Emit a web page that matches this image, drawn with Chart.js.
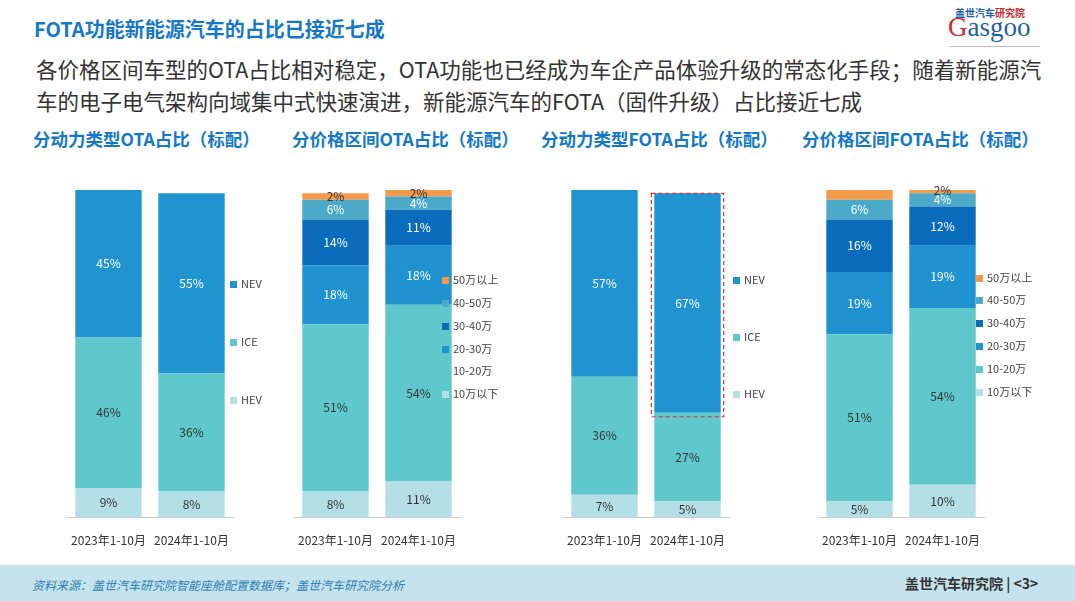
<!DOCTYPE html>
<html><head><meta charset="utf-8">
<script src="https://cdn.jsdelivr.net/npm/chart.js@4"></script>
<style>
body{margin:0;width:1075px;height:601px;position:relative;background:#fff;font-family:"Noto Sans CJK SC","Noto Sans",sans-serif;overflow:hidden}
.a{position:absolute;white-space:nowrap}
canvas{position:absolute}
.lg{position:absolute;font-size:11px;color:#444;white-space:nowrap}
.lg i{display:inline-block;width:7px;height:7px;margin-right:4px;vertical-align:0px}
.t{font-size:17.5px;font-weight:bold;color:#1478c8;top:126px}
</style></head><body>
<div class="a" style="left:34px;top:14px;font-size:20px;font-weight:bold;color:#1478c8">FOTA功能新能源汽车的占比已接近七成</div>
<div class="a" style="left:36px;top:53px;font-size:21.5px;color:#333;line-height:32px">各价格区间车型的OTA占比相对稳定，OTA功能也已经成为车企产品体验升级的常态化手段；随着新能源汽<br>车的电子电气架构向域集中式快速演进，新能源汽车的FOTA（固件升级）占比接近七成</div>
<div class="a" style="left:955px;top:5px;font-size:10px;font-weight:bold;color:#1f5fa8">盖世汽车<span style="color:#d0282e">研究院</span></div>
<div class="a" style="left:948px;top:12px;font-size:27px;color:#1f5fa8;font-family:'Liberation Serif'"><span style="color:#d0282e">G</span>asgoo</div>
<div class="a" style="left:950px;top:46px;width:90px;border-top:1px solid #bbb"></div>
<div class="a t" style="left:33px">分动力类型OTA占比（标配）</div>
<div class="a t" style="left:292px">分价格区间OTA占比（标配）</div>
<div class="a t" style="left:541px">分动力类型FOTA占比（标配）</div>
<div class="a t" style="left:802px">分价格区间FOTA占比（标配）</div>
<div class="a" style="left:0;top:565px;width:1075px;height:36px;background:#c5e3ec"></div>
<div class="a" style="left:32px;top:576px;font-size:12px;color:#2a7fb8;font-style:italic">资料来源：盖世汽车研究院智能座舱配置数据库；盖世汽车研究院分析</div>
<div class="a" style="left:905px;top:573px;font-size:14px;font-weight:bold;color:#333">盖世汽车研究院 | &lt;3&gt;</div>

<canvas id="c1"></canvas><canvas id="c2"></canvas><canvas id="c3"></canvas><canvas id="c4"></canvas>
<div id="legs"></div>
<script>
const years=["2023年1-10月","2024年1-10月"];
const powerNames=["HEV","ICE","NEV"];
const priceNames=["10万以下","10-20万","20-30万","30-40万","40-50万","50万以上"];
const otaPower=[[9,8],[46,36],[45,55]];
const otaPrice=[[8,11],[51,54],[18,18],[14,11],[6,4],[2,2]];
const fotaPower=[[7,5],[36,27],[57,67]];
const fotaPrice=[[5,10],[51,54],[19,19],[16,12],[6,4],[3,2]];
const powerColors=["#b4dfe7","#5fc8cc","#1f94d1"];
const priceColors=["#b4dfe7","#5fc8cc","#1f92cf","#0b6cbc","#4aaac8","#f39a4b"];
const powerText=["#333","#333","#fff"];
const priceText=["#333","#333","#fff","#fff","#fff","#333"];

const labelPlugin={id:'lbl',afterDatasetsDraw(ch,a,opt){
  const ctx=ch.ctx;ctx.save();ctx.font='12px "Noto Sans CJK SC"';ctx.textAlign='center';ctx.textBaseline='middle';
  ch.data.datasets.forEach((ds,i)=>{ch.getDatasetMeta(i).data.forEach((el,j)=>{
    const v=ds.data[j]; if(ds.hideLabel&&ds.hideLabel[j])return;
    ctx.fillStyle=ds.textColor;ctx.fillText(v+'%',el.x,(el.y+el.base)/2);});});
  if(opt.box){const el=ch.getDatasetMeta(opt.box[0]).data[opt.box[1]];
    ctx.strokeStyle='#d9302e';ctx.setLineDash([4,3]);ctx.lineWidth=1.2;
    ctx.strokeRect(el.x-el.width/2-3,el.y,el.width+6,el.base-el.y+4);}
  ctx.restore();}};

function make(id,center,names,vals,cols,tcols,box,hide){
  const cv=document.getElementById(id);
  cv.style.left=(center-61.5)+'px';cv.style.top='186px';cv.style.width='206px';cv.style.height='370px';
  new Chart(cv,{type:'bar',plugins:[labelPlugin],
    data:{labels:years,datasets:names.map((n,i)=>({label:n,data:vals[i],backgroundColor:cols[i],textColor:tcols[i],hideLabel:hide?hide[i]:null,borderWidth:0}))},
    options:{responsive:false,animation:false,devicePixelRatio:1,
      layout:{padding:{left:20,right:20,top:4,bottom:0}},
      plugins:{legend:{display:false},tooltip:{enabled:false},lbl:{box:box}},
      datasets:{bar:{barPercentage:0.8,categoryPercentage:1}},
      scales:{x:{stacked:true,grid:{display:false},border:{color:'#ccc'},ticks:{color:'#333',font:{size:12,family:'Noto Sans CJK SC'},padding:8,maxRotation:0}},
        y:{stacked:true,display:false,min:0,max:100}}}});
}
make('c1',108,powerNames,otaPower,powerColors,powerText);
make('c2',335,priceNames,otaPrice,priceColors,priceText);
make('c3',604,powerNames,fotaPower,powerColors,powerText,[2,1]);
make('c4',859,priceNames,fotaPrice,priceColors,priceText,null,[null,null,null,null,null,[true,false]]);

function legend(x,ys,names,cols){let h='';
  names.forEach((n,i)=>{h+=`<div class="lg" style="left:${x}px;top:${ys[i]-8}px"><i style="background:${cols[i]}"></i>${n}</div>`;});
  document.getElementById('legs').innerHTML+=h;}
legend(230,[399,341,283],powerNames,powerColors);
legend(442,[393,370,348,325,302,279],priceNames,priceColors);
legend(733,[393,336,279],powerNames,powerColors);
legend(976,[391,368,345,322,299,277],priceNames,priceColors);
</script></body></html>
